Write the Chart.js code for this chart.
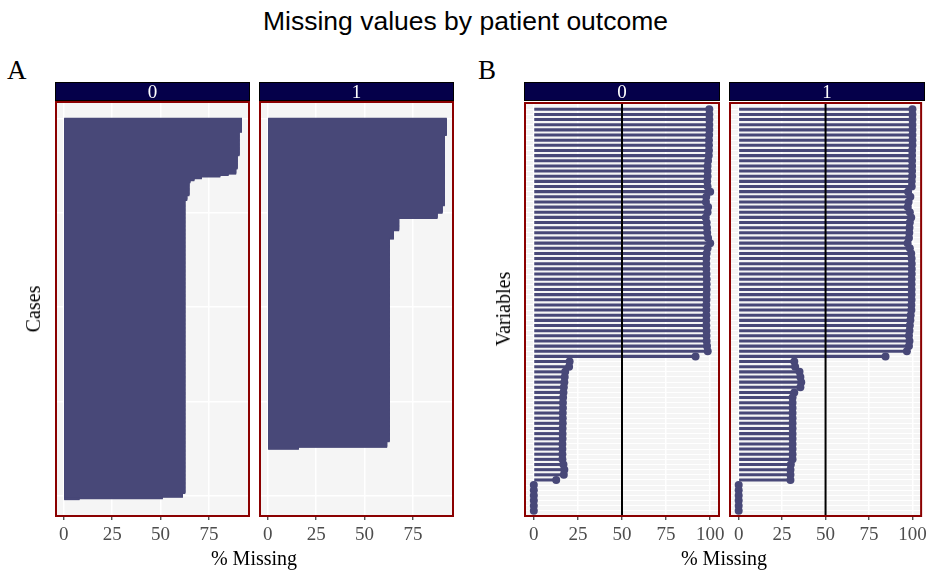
<!DOCTYPE html>
<html><head><meta charset="utf-8">
<script src="https://cdn.jsdelivr.net/npm/chart.js@4.4.0/dist/chart.umd.min.js"></script>
<style>
html,body{margin:0;padding:0;background:#fff;overflow:hidden;width:931px;height:575px;}
#wrap{position:relative;width:931px;height:575px;}
canvas{position:absolute;}
.t{position:absolute;white-space:nowrap;color:#000;}
.title{left:0;width:931px;top:8px;text-align:center;font-family:"Liberation Sans",Arial,sans-serif;font-size:26.5px;line-height:26px;}
.tag{font-family:"Liberation Serif",serif;font-size:27px;line-height:27px;top:57px;}
.strip{background:#05004a;border:1px solid #000;box-sizing:border-box;color:#fff;text-align:center;font-family:"Liberation Serif",serif;font-size:19px;line-height:17px;height:19px;top:82px;}
.axt{font-family:"Liberation Serif",serif;font-size:20px;line-height:20px;top:548px;transform:translateX(-50%);}
.yt{font-family:"Liberation Serif",serif;font-size:20px;line-height:20px;transform:translate(-50%,-50%) rotate(-90deg);}
</style></head>
<body><div id="wrap">
<canvas id="a0"></canvas><canvas id="a1"></canvas><canvas id="b0"></canvas><canvas id="b1"></canvas>
<div class="t title">Missing values by patient outcome</div>
<div class="t tag" style="left:7px">A</div>
<div class="t tag" style="left:478px">B</div>
<div class="t strip" id="sa0" style="left:55px;width:195px"></div>
<div class="t strip" id="sa1" style="left:259px;width:195px"></div>
<div class="t strip" id="sb0" style="left:524px;width:196px"></div>
<div class="t strip" id="sb1" style="left:729px;width:196px"></div>
<div class="t axt" style="left:254px">% Missing</div>
<div class="t axt" style="left:724px">% Missing</div>
<div class="t yt" style="left:33px;top:309px">Cases</div>
<div class="t yt" style="left:503px;top:309px">Variables</div>
</div>
<script>
// ---------------- data ----------------
const outcomes = ['0', '1'];
const caseTicks = [0, 200, 400, 600, 800];
const pctTicksCases = [0, 25, 50, 75];
const pctTicksVars = [0, 25, 50, 75, 100];
const refLine = 50;

// Panel A: % missing per case (runs of equal values, sorted), outcome 0 and 1
const casePct0 = [91.9, 90.6, 89.6, 88.9, 85.0, 80.7, 71.2, 67.3, 65.2, 64.7, 63.6, 62.6, 61.4, 51.0, 8.0];
const caseRun0 = [28, 50, 28, 11, 3, 3, 4, 4, 5, 27, 10, 622, 8, 3, 2];
const casePct1 = [92.3, 91.3, 90.1, 87.5, 67.7, 65.0, 62.8, 61.5, 15.9];
const caseRun1 = [35, 149, 16, 11, 26, 18, 430, 12, 4];

// Panel B: % missing per variable, outcome 0 and 1
const varPct0 = [
  99.5, 99.5, 99.5, 99.5, 99.5, 99.4, 99.3, 99.3, 99.3, 99.2,
  98.8, 98.5, 98.5, 98.5, 98.3, 98.5, 100, 97.8, 97.6, 98.8,
  98.5, 97.5, 98.0, 98.2, 98.3, 98.8, 100, 98.5,
  98.0, 97.8, 97.8, 97.8, 97.9, 98.0, 98.0, 98.0, 97.9, 97.9,
  97.8, 97.8, 97.8, 97.8, 97.8, 97.9, 97.9, 98.0, 98.2, 98.6, 91.7,
  20.3, 20.0, 17.8, 17.5, 17.3, 17.0, 16.8, 16.6, 16.5, 16.5,
  16.4, 16.4, 16.4, 16.3, 16.3, 16.3, 16.2, 16.2, 16.2, 16.2,
  16.8, 17.3, 17.0, 12.7,
  0, 0, 0, 0, 0, 0
];
const varPct1 = [
  100, 100, 100, 100, 100, 100, 100, 100, 99.8, 99.8,
  99.8, 99.8, 99.8, 99.8, 99.6, 99.6, 97.5, 98.8, 97.8, 97.3,
  98.5, 99.3, 98.5, 98.3, 98.2, 98.0, 97.2, 98.5,
  99.3, 99.5, 99.6, 99.6, 99.6, 99.5, 99.5, 99.5, 99.5, 99.5,
  99.4, 99.4, 99.0, 98.8, 98.5, 98.3, 98.0, 98.3, 98.0, 96.8, 84.5,
  32.0, 32.5, 35.0, 35.5, 36.0, 35.5, 32.0, 31.0, 31.0, 31.0,
  31.0, 31.0, 31.0, 31.0, 31.0, 31.0, 31.0, 31.0, 31.0, 31.0,
  30.0, 29.8, 29.8, 29.8,
  0, 0, 0, 0, 0, 0
];
const variables = varPct0.map((_, i) => 'V' + (i + 1));

// ---------------- helpers ----------------
function expandRuns(pcts, runs) {
  const rows = [];
  pcts.forEach((p, k) => { for (let j = 0; j < runs[k]; j++) rows.push({ x: p, y: rows.length + 0.5 }); });
  return rows;
}
const INK = '#484878';
const PANEL_BG = '#f5f5f5';
const panelPlugin = {
  id: 'panel',
  beforeDraw(chart) {
    const { ctx, chartArea: a } = chart;
    ctx.save(); ctx.fillStyle = PANEL_BG;
    ctx.fillRect(a.left, a.top, a.right - a.left, a.bottom - a.top); ctx.restore();
  },
  afterDatasetsDraw(chart, args, opts) {
    if (opts.vline === undefined || opts.vline === null) return;
    const { ctx, chartArea: a, scales } = chart;
    const x = scales.x.getPixelForValue(opts.vline);
    ctx.save(); ctx.strokeStyle = '#000'; ctx.lineWidth = 2;
    ctx.beginPath(); ctx.moveTo(x, a.top); ctx.lineTo(x, a.bottom); ctx.stroke(); ctx.restore();
  },
  afterDraw(chart) {
    const { ctx, chartArea: a } = chart;
    ctx.save(); ctx.strokeStyle = '#8b0000'; ctx.lineWidth = 2;
    ctx.strokeRect(a.left, a.top, a.right - a.left, a.bottom - a.top); ctx.restore();
  }
};

function xScale(min, max, ticks) {
  return {
    type: 'linear', min, max, offset: false,
    afterBuildTicks: s => { s.ticks = ticks.map(v => ({ value: v })); },
    afterFit: s => { s.height = 40; },
    grid: { offset: false, color: '#ffffff', lineWidth: 1.5, drawTicks: true, tickLength: 4, tickColor: '#333333', tickWidth: 1.2 },
    border: { display: false },
    ticks: { padding: 4, color: '#4d4d4d', font: { family: 'Liberation Serif', size: 19 } }
  };
}
function yScale(min, max, ticks, lw) {
  return {
    type: 'linear', reverse: true, min, max, offset: false,
    afterBuildTicks: s => { s.ticks = ticks.map(v => ({ value: v })); },
    grid: { offset: false, color: '#ffffff', lineWidth: lw, drawTicks: false },
    border: { display: false },
    ticks: { display: false }
  };
}

function makeChart(id, area, padR, datasets, xs, ys, vline) {
  const padL = 20, padT = 3, axisH = 40;
  const cv = document.getElementById(id);
  const w = area[1] - area[0] + padL + padR;
  const h = padT + (516 - 102) + axisH;
  cv.width = w; cv.height = h;
  cv.style.left = (area[0] - padL) + 'px';
  cv.style.top = (102 - padT) + 'px';
  cv.style.width = w + 'px'; cv.style.height = h + 'px';
  new Chart(cv, {
    type: 'bar',
    data: { datasets },
    options: {
      indexAxis: 'y', responsive: false, animation: false, devicePixelRatio: 1, events: [],
      layout: { padding: { left: padL, right: padR, top: padT, bottom: 0 } },
      plugins: { legend: { display: false }, tooltip: { enabled: false }, panel: { vline } },
      scales: { x: xs, y: ys }
    },
    plugins: [panelPlugin]
  });
}

// strips
document.getElementById('sa0').textContent = outcomes[0];
document.getElementById('sa1').textContent = outcomes[1];
document.getElementById('sb0').textContent = outcomes[0];
document.getElementById('sb1').textContent = outcomes[1];

// Panel A
[[casePct0, caseRun0, 'a0', [56, 249], 20], [casePct1, caseRun1, 'a1', [260, 453], 20]].forEach(([p, r, id, area, padR]) => {
  makeChart(id, area, padR,
    [{ type: 'bar', data: expandRuns(p, r), backgroundColor: INK, borderWidth: 0, barThickness: 1.6, grouped: false }],
    xScale(-4.0, 95.7, pctTicksCases), yScale(-35.2, 843.5, caseTicks, 1.5), null);
});

// Panel B
const varIdx = variables.map((_, i) => i);
[[varPct0, 'b0', [525, 719], 20], [varPct1, 'b1', [730, 924], 7]].forEach(([vals, id, area, padR]) => {
  const pts = vals.map((v, i) => ({ x: v, y: varIdx[i] }));
  makeChart(id, area, padR, [
    { type: 'line', data: pts, showLine: false, pointRadius: 4, pointBackgroundColor: INK, pointBorderColor: INK, pointBorderWidth: 0, clip: false },
    { type: 'bar', data: pts, backgroundColor: INK, borderWidth: 0, barThickness: 2.4, grouped: false }
  ], xScale(-5, 105, pctTicksVars), yScale(-1.22, 79.0, varIdx, 1), refLine);
});
</script>
</body></html>
